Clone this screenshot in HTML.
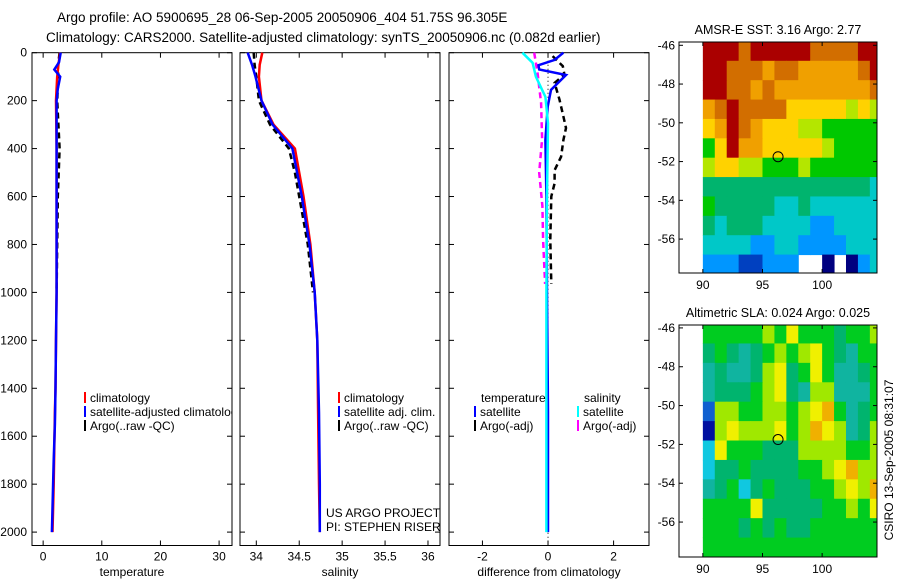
<!DOCTYPE html>
<html><head><meta charset="utf-8"><style>
body{margin:0;background:#fff}
svg{display:block;font-family:"Liberation Sans",sans-serif}
text{font-size:12px;fill:#000}
.ttl{font-size:13.5px}
.mt{font-size:12.5px}
</style></head><body>
<svg id="fig" width="900" height="580" viewBox="0 0 900 580">
<text class="ttl" x="57" y="22">Argo profile: AO 5900695_28 06-Sep-2005 20050906_404 51.75S 96.305E</text>
<text class="ttl" x="46" y="42">Climatology: CARS2000. Satellite-adjusted climatology: synTS_20050906.nc (0.082d earlier)</text>
<g id="p1"></g>
<g id="p2"></g>
<g id="p3"></g>
<g id="m1"></g>
<g id="m2"></g>
<text transform="translate(893,460) rotate(-90)" text-anchor="middle">CSIRO 13-Sep-2005 08:31:07</text>
</svg>
<script>
// ---------- data ----------
const depthTicks=[0,200,400,600,800,1000,1200,1400,1600,1800,2000];
const tempTicks=[0,10,20,30];
const salTicks=[34,34.5,35,35.5,36];
const diffTicks=[-2,0,2];
const tClimD=[0,50,100,200,400,700,1000,1200,1400,1500,1800,2000];
const tClimV=[2.9,2.6,2.4,2.2,2.3,2.3,2.3,2.2,2.1,2.0,1.8,1.6];
const tSatD=[0,40,70,100,150,200,400,700,1000,1200,1400,1550,1700,1800,1900,2000];
const tSatV=[3.0,2.7,1.9,2.9,2.5,2.3,2.3,2.3,2.3,2.2,2.1,2.0,1.8,1.7,1.6,1.5];
const tArgoD=[0,60,100,200,300,400,600,800,1000];
const tArgoV=[2.8,2.5,2.6,2.4,2.6,2.8,2.5,2.4,2.3];
const sClimD=[0,50,100,200,300,400,600,800,1000,1200,1500,1800,2000];
const sClimV=[34.07,34.04,34.03,34.06,34.2,34.45,34.55,34.63,34.68,34.71,34.72,34.73,34.74];
const sSatD=[0,50,100,200,300,400,600,800,1000,1200,1500,1800,2000];
const sSatV=[33.9,33.95,33.99,34.06,34.19,34.42,34.53,34.62,34.68,34.71,34.73,34.74,34.74];
const sArgoD=[0,50,100,200,300,400,500,600,800,1000];
const sArgoV=[33.97,33.98,34.0,34.03,34.16,34.38,34.45,34.5,34.6,34.66];
const dTSatD=[0,30,52,70,93,155,225,364,600,1000,1500,2000];
const dTSatV=[0.47,0.2,-0.29,-0.27,0.55,0.09,-0.01,-0.08,-0.05,-0.03,0,0];
const dSSatD=[0,42,100,184,295,600,1000,1500,2000];
const dSSatV=[-0.78,-0.47,-0.37,-0.08,0,-0.03,-0.05,-0.05,-0.05];
const dSArgoD=[0,83,210,360,500,640,780,965];
const dSArgoV=[-0.42,-0.32,-0.21,-0.18,-0.27,-0.17,-0.15,-0.09];
const dTArgoD=[14,56,91,126,196,266,314,364,434,490,545,600,780,965];
const dTArgoV=[0.14,0.45,0.5,0.2,0.35,0.47,0.55,0.47,0.4,0.2,0.2,0.1,0.07,0.1];
// maps: rows from -46 southward (1 deg each), cols lon 90..104; -1 = no data
const mapLons=[90,91,92,93,94,95,96,97,98,99,100,101,102,103,104];
const mapLats=[-46,-47,-48,-49,-50,-51,-52,-53,-54,-55,-56,-57];
const sstGrid=[
[10,10,10,9,10,10,10,10,10,9,9,9,9,10,10],
[10,10,9,9,9,8,9,9,8,8,8,8,8,9,10],
[10,10,9,9,8,9,8,8,8,8,8,8,8,8,9],
[8,9,10,9,9,9,9,7,7,7,7,7,6,7,6],
[7,8,10,9,8,7,7,7,6,6,5,5,5,5,5],
[5,7,10,8,8,7,7,7,7,7,6,5,5,5,5],
[6,7,7,6,6,5,5,5,6,5,5,5,5,5,5],
[4,4,4,4,4,4,4,4,4,4,4,4,4,4,3],
[5,4,4,4,4,4,3,3,4,3,3,3,3,3,3],
[4,3,4,4,4,3,3,3,3,2,2,3,3,3,3],
[3,3,3,3,2,2,3,3,2,2,2,2,3,3,3],
[2,2,2,1,1,2,2,2,-1,-1,0,-1,0,2,3]];
const slaGrid=[
[5,5,5,5,5,6,5,7,5,5,5,4,5,5,6],
[4,5,4,3,4,5,6,5,6,7,5,4,3,5,5],
[3,4,3,3,4,6,7,4,5,7,5,3,3,4,5],
[3,4,4,4,5,6,7,4,3,6,6,3,3,3,5],
[1,6,6,5,5,6,6,5,6,7,8,5,3,4,5],
[0,6,7,6,6,6,7,5,6,8,7,6,3,4,6],
[2,7,5,5,5,4,4,4,6,6,6,6,5,5,6],
[2,4,4,5,4,4,4,4,5,5,6,7,8,6,6],
[3,4,5,2,4,5,4,4,4,5,5,6,7,6,8],
[5,5,5,5,7,4,4,4,4,4,5,5,6,5,7],
[5,5,5,4,5,4,5,4,4,5,5,5,5,5,5],
[5,5,5,5,5,5,5,5,5,5,5,5,5,5,5]];
const mapLonTicks=[90,95,100];
const mapLatTicks=[-46,-48,-50,-52,-54,-56];
const floatLon=96.305, floatLat=-51.75;

// ---------- drawing ----------
const NS="http://www.w3.org/2000/svg";
function el(tag,attrs,parent,txt){const e=document.createElementNS(NS,tag);for(const k in attrs)e.setAttribute(k,attrs[k]);if(txt!=null)e.textContent=txt;parent.appendChild(e);return e;}
const top0=52.7,bot0=545.5;
const yD=d=>top0+d*0.2397;
function panel(g,x0,x1,dom,ticks,label,showY){
  const sx=v=>x0+(v-dom[0])/(dom[1]-dom[0])*(x1-x0);
  const r=el('rect',{x:x0,y:top0,width:x1-x0,height:bot0-top0,fill:'none',stroke:'#000','stroke-width':1},g);
  
  ticks.forEach(t=>{const x=sx(t);
    el('line',{x1:x,x2:x,y1:bot0,y2:bot0-5,stroke:'#000'},g);
    el('line',{x1:x,x2:x,y1:top0,y2:top0+5,stroke:'#000'},g);
    const tx=el('text',{x:x,y:bot0+15,'text-anchor':'middle'},g,String(t));
    });
  depthTicks.forEach(d=>{const y=yD(d);
    el('line',{x1:x0,x2:x0+5,y1:y,y2:y,stroke:'#000'},g);
    el('line',{x1:x1,x2:x1-5,y1:y,y2:y,stroke:'#000'},g);
    if(showY){const tx=el('text',{x:x0-5,y:y+4,'text-anchor':'end'},g,String(d));
      }});
  const lt=el('text',{x:(x0+x1)/2,y:576,'text-anchor':'middle'},g,label);
  
  return sx;
}
function series(g,sx,D,V,color,dash,name){
  const pts=D.map((d,i)=>sx(V[i]).toFixed(1)+','+yD(d).toFixed(1)).join(' ');
  const p=el('polyline',{points:pts,fill:'none',stroke:color,'stroke-width':2.5},g);
  if(dash)p.setAttribute('stroke-dasharray',dash);
  
}
function legend(g,x,y,color,txt){
  el('rect',{x:x,y:y-10,width:2,height:11,fill:color},g);
  const t=el('text',{x:x+6,y:y},g,txt);
  
}
const g1=document.getElementById('p1'),g2=document.getElementById('p2'),g3=document.getElementById('p3');
const sT=panel(g1,32,232,[-1.9,32.2],tempTicks,'temperature',true);
series(g1,sT,tArgoD,tArgoV,'#000','6,4','argo-temperature-line');
series(g1,sT,tClimD,tClimV,'#f00',null,'climatology-temperature-line');
series(g1,sT,tSatD,tSatV,'#00f',null,'satellite-temperature-line');
const c1=el('svg',{x:0,y:0,width:232,height:580,overflow:'hidden'},g1);
legend(c1,84,402,'#f00','climatology');legend(c1,84,416,'#00f','satellite-adjusted climatology');legend(c1,84,430,'#000','Argo(..raw -QC)');
const sS=panel(g2,240,440,[33.81,36.14],salTicks,'salinity',false);
series(g2,sS,sArgoD,sArgoV,'#000','6,4','argo-salinity-line');
series(g2,sS,sClimD,sClimV,'#f00',null,'climatology-salinity-line');
series(g2,sS,sSatD,sSatV,'#00f',null,'satellite-salinity-line');
legend(g2,338,402,'#f00','climatology');legend(g2,338,416,'#00f','satellite adj. clim.');legend(g2,338,430,'#000','Argo(..raw -QC)');
el('text',{x:326,y:517},g2,'US ARGO PROJECT');el('text',{x:326,y:531},g2,'PI: STEPHEN RISER');
const sDf=panel(g3,449,649,[-3.02,3.08],diffTicks,'difference from climatology',false);
el('line',{x1:sDf(0),x2:sDf(0),y1:top0,y2:yD(2040),stroke:'#000','stroke-dasharray':'1,3'},g3);
series(g3,sDf,dTArgoD,dTArgoV,'#000','6,4','argo-temperature-diff-line');
series(g3,sDf,dSArgoD,dSArgoV,'#f0f','6,4','argo-salinity-diff-line');
series(g3,sDf,dTSatD,dTSatV,'#00f',null,'satellite-temperature-diff-line');
series(g3,sDf,dSSatD,dSSatV,'#0ff',null,'satellite-salinity-diff-line');
el('text',{x:481,y:402},g3,'temperature');el('text',{x:584,y:402},g3,'salinity');
legend(g3,474,416,'#00f','satellite');legend(g3,474,430,'#000','Argo(-adj)');
legend(g3,577,416,'#0ff','satellite');legend(g3,577,430,'#f0f','Argo(-adj)');

const sstCols=['#000080','#0040c0','#0096ff','#00c8c8','#00b46e','#00c800','#b4e600','#ffd200','#f0a000','#d26e00','#aa0000'];
const slaCols=['#0010a0','#1060d0','#10c8e0','#10b4a0','#00b46e','#00cc20','#a0e800','#f0f000','#f0b000'];
function map(g,y0,y1,latTop,latBot,grid,cols,title){
  const x0=679,x1=877,lonL=88,lonR=104.6;
  const sx=v=>x0+(v-lonL)/(lonR-lonL)*(x1-x0);
  const sy=v=>y0+(latTop-v)/(latTop-latBot)*(y1-y0);
  const cg=el('svg',{x:x0,y:y0,width:x1-x0,height:y1-y0,overflow:'hidden'},g);
  grid.forEach((row,i)=>row.forEach((v,j)=>{ if(v<0)return;
    const xa=sx(mapLons[j]),xb=sx(mapLons[j]+1),ya=sy(mapLats[i]+0.2),yb=sy(mapLats[i]-1+0.2);
    const r=el('rect',{x:xa-x0,y:Math.max(ya,y0)-y0,width:xb-xa+0.5,height:yb-Math.max(ya,y0)+0.5,fill:cols[v]},cg);
    }));
  const c=el('circle',{cx:sx(floatLon),cy:sy(floatLat),r:5,fill:'none',stroke:'#000','stroke-width':1},g);
  
  el('rect',{x:x0,y:y0,width:x1-x0,height:y1-y0,fill:'none',stroke:'#000'},g);
  mapLonTicks.forEach(t=>{const x=sx(t);el('line',{x1:x,x2:x,y1:y1,y2:y1-4,stroke:'#000'},g);el('line',{x1:x,x2:x,y1:y0,y2:y0+4,stroke:'#000'},g);
    const tx=el('text',{x:x,y:y1+16,'text-anchor':'middle'},g,String(t));});
  mapLatTicks.forEach(t=>{const y=sy(t);el('line',{x1:x0,x2:x0+4,y1:y,y2:y,stroke:'#000'},g);el('line',{x1:x1,x2:x1-4,y1:y,y2:y,stroke:'#000'},g);
    const tx=el('text',{x:x0-4,y:y+4,'text-anchor':'end'},g,String(t));});
  const tt=el('text',{x:(x0+x1)/2,y:y0-8,'text-anchor':'middle','class':'mt'},g,title);
  
}
map(document.getElementById('m1'),42,273,-45.83,-57.75,sstGrid,sstCols,'AMSR-E SST: 3.16 Argo: 2.77');
map(document.getElementById('m2'),325,557,-45.85,-57.8,slaGrid,slaCols,'Altimetric SLA: 0.024 Argo: 0.025');
</script>
</body></html>
